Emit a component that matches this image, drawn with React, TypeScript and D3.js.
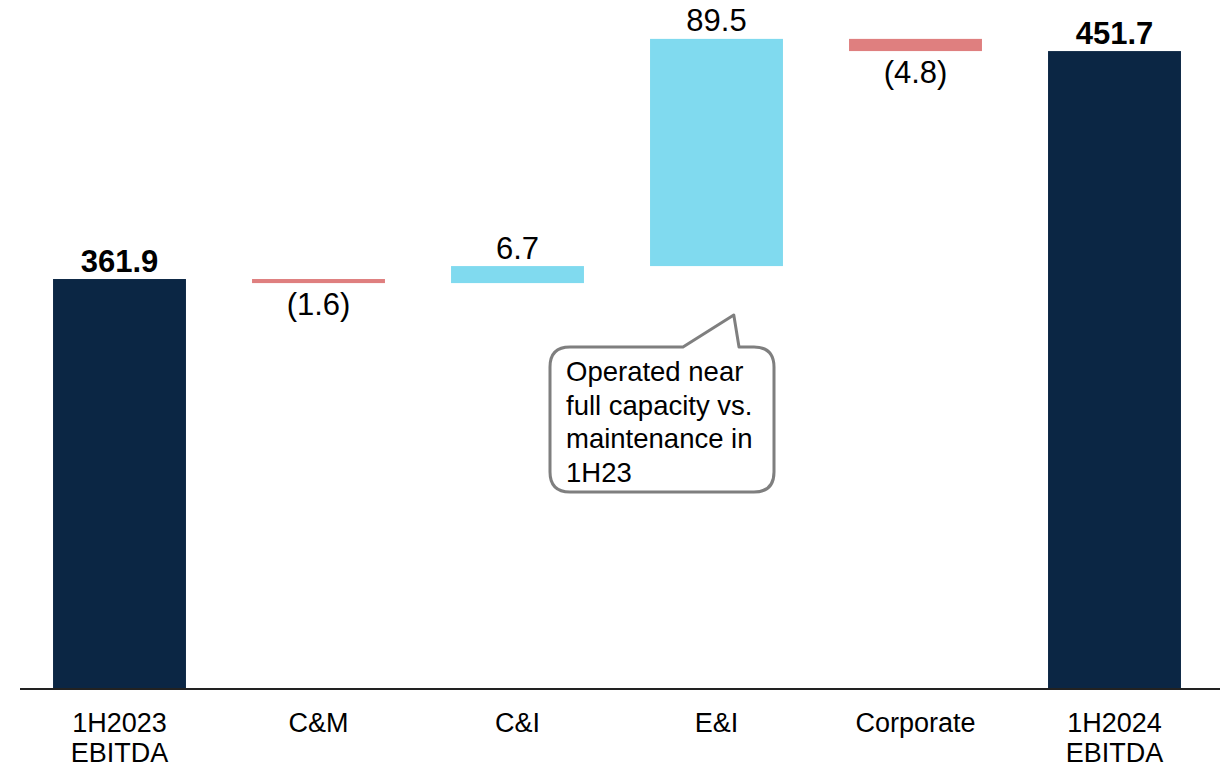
import React from "react";
import * as d3 from "d3";

// EBITDA bridge, 1H2023 -> 1H2024
const categories = ["1H2023\nEBITDA", "C&M", "C&I", "E&I", "Corporate", "1H2024\nEBITDA"];
const kinds = ["total", "delta", "delta", "delta", "delta", "total"];
const values = [361.9, -1.6, 6.7, 89.5, -4.8, 451.7];
const valueLabels = ["361.9", "(1.6)", "6.7", "89.5", "(4.8)", "451.7"];
const yDomain = [200, 460];
const calloutLines = ["Operated near", "full capacity vs.", "maintenance in", "1H23"];

const W = 1220;
const H = 767;
const NAVY = "#0b2644";
const BLUE = "#80daef";
const RED = "#df7f7f";
const FONT = "'Liberation Sans', Arial, Helvetica, sans-serif";

export default function App() {
  const x = d3
    .scaleBand<number>()
    .domain(d3.range(categories.length))
    .range([20, 1214])
    .paddingInner(0.332)
    .paddingOuter(0.166);
  const y = d3.scaleLinear().domain(yDomain).range([690, 30]);

  // running totals for the floating bars
  let running = 0;
  const bars = values.map((v, i) => {
    if (kinds[i] === "total") {
      running = v;
      return { i, lo: yDomain[0], hi: v, v };
    }
    const start = running;
    running = start + v;
    return { i, lo: Math.min(start, running), hi: Math.max(start, running), v };
  });

  const color = (b: { i: number; v: number }) =>
    kinds[b.i] === "total" ? NAVY : b.v >= 0 ? BLUE : RED;

  // callout bubble attached to the E&I bar
  const bx0 = 550, bx1 = 774, by0 = 347, by1 = 492, r = 20;
  const tailA = 683, tailB = 739;
  const tipX = x(3)! + x.bandwidth() * 0.63;
  const tipY = y(bars[3].lo) + 49;
  const bubble = [
    `M${bx0 + r},${by0}`,
    `L${tailA},${by0}`,
    `L${tipX},${tipY}`,
    `L${tailB},${by0}`,
    `L${bx1 - r},${by0}`,
    `Q${bx1},${by0} ${bx1},${by0 + r}`,
    `L${bx1},${by1 - r}`,
    `Q${bx1},${by1} ${bx1 - r},${by1}`,
    `L${bx0 + r},${by1}`,
    `Q${bx0},${by1} ${bx0},${by1 - r}`,
    `L${bx0},${by0 + r}`,
    `Q${bx0},${by0} ${bx0 + r},${by0}`,
    "Z",
  ].join(" ");

  return (
    <svg width={W} height={H} style={{ position: "absolute", left: 0, top: 0, background: "#fff" }} fontFamily={FONT}>
      {bars.map((b) => (
        <rect
          key={b.i}
          x={x(b.i)}
          y={y(b.hi)}
          width={x.bandwidth()}
          height={Math.max(1, y(b.lo) - y(b.hi))}
          fill={color(b)}
        />
      ))}
      <line x1={20} x2={1220} y1={689} y2={689} stroke="#222" strokeWidth={2} />

      {bars.map((b) => {
        const cx = x(b.i)! + x.bandwidth() / 2;
        const isTotal = kinds[b.i] === "total";
        const above = isTotal || b.v >= 0;
        const ty = above ? y(b.hi) - 7.5 : y(b.lo) + 32;
        return (
          <text
            key={b.i}
            x={cx}
            y={ty}
            textAnchor="middle"
            fontSize={31}
            fontWeight={isTotal ? "bold" : "normal"}
            fill="#000"
          >
            {valueLabels[b.i]}
          </text>
        );
      })}

      {categories.map((c, i) => (
        <text key={i} x={x(i)! + x.bandwidth() / 2} y={732} textAnchor="middle" fontSize={27} fill="#000">
          {c.split("\n").map((line, j) => (
            <tspan key={j} x={x(i)! + x.bandwidth() / 2} dy={j === 0 ? 0 : 29.5}>
              {line}
            </tspan>
          ))}
        </text>
      ))}

      <path d={bubble} fill="#fff" stroke="#7f7f7f" strokeWidth={3} strokeLinejoin="round" />
      <text x={566} y={381} fontSize={27.5} fill="#000">
        {calloutLines.map((line, j) => (
          <tspan key={j} x={566} dy={j === 0 ? 0 : 33.6}>
            {line}
          </tspan>
        ))}
      </text>
    </svg>
  );
}
